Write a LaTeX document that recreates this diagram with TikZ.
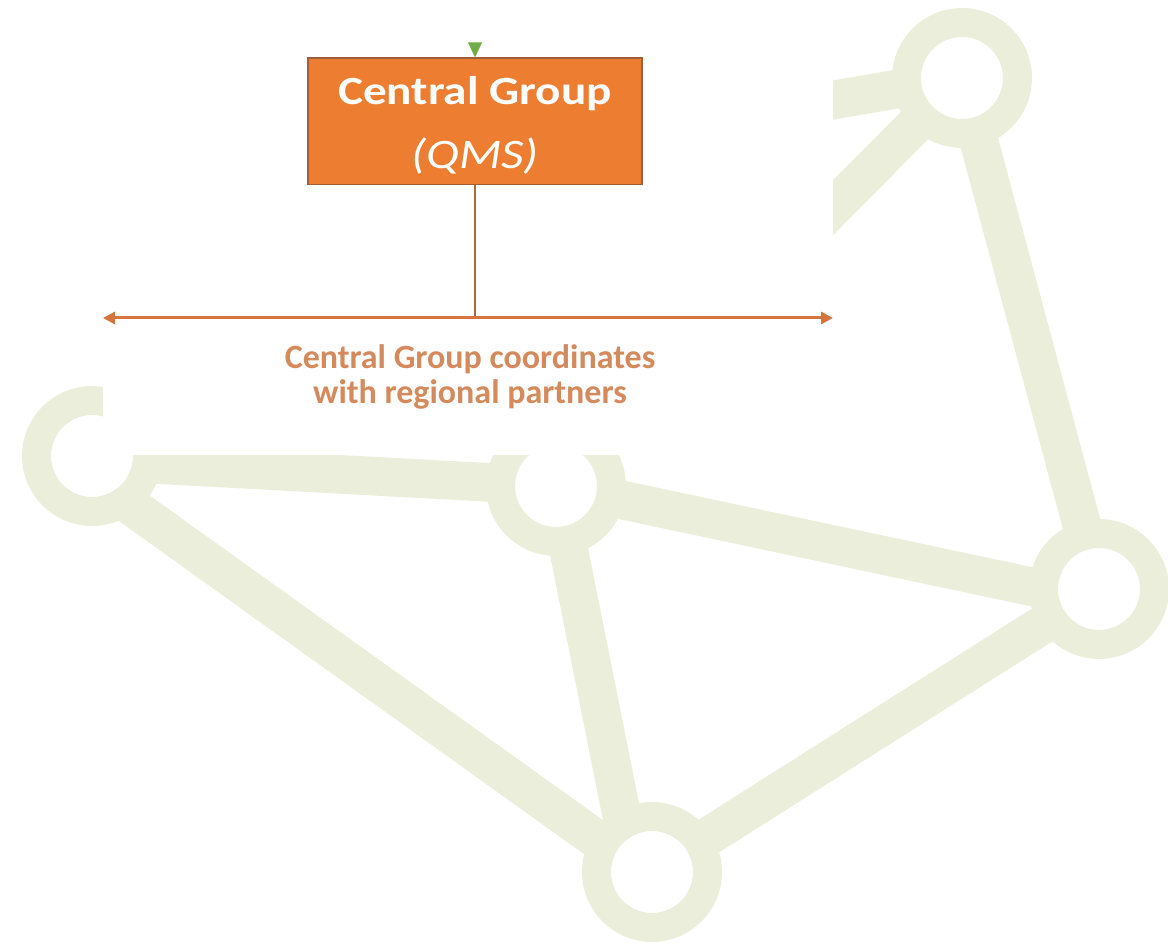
\documentclass[tikz,border=0pt]{standalone}
\usepackage{fontspec}
\setmainfont{Carlito}
\newfontfamily\boxfont[FakeStretch=1.18]{Carlito}
\usetikzlibrary{arrows.meta,backgrounds,calc}
\definecolor{ringgreen}{RGB}{235,238,218}
\definecolor{qmsorange}{RGB}{237,125,49}
\definecolor{qmsborder}{RGB}{160,95,55}
\definecolor{busorange}{RGB}{214,116,62}
\definecolor{stembrown}{RGB}{170,105,65}
\definecolor{notebrown}{RGB}{212,138,92}
\definecolor{pointgreen}{RGB}{112,173,71}
\tikzset{
	ring/.style={circle,draw=ringgreen,fill=white,line width=21.75pt,minimum size=83.25pt,inner sep=0pt},
	link/.style={ringgreen,line width=29pt},
}
\begin{document}
\begin{tikzpicture}[x=0.75pt,y=-0.75pt,>={Triangle[length=9pt,width=9pt]}]
	\useasboundingbox (0,0) rectangle (1168,944);
	% network behind
	\node[ring] (west) at (92,456) {};
	\node[ring] (mid) at (556,486) {};
	\node[ring] (north) at (962,78) {};
	\node[ring] (east) at (1099,589) {};
	\node[ring] (south) at (652,872) {};
	\coordinate (hidden) at (400,174);
	\begin{pgfonlayer}{background}
		\draw[link] ($(west)+(0,5)$)--(mid.center) ($(west)+(0,22)$)--($(south)+(0,7)$) (mid.center)--($(south)+(-19,0)$) (mid.center)--($(east)+(0,12)$);
		\draw[link] (south.center)--(east.center) (north.center)--(east.center) (north.center)--(mid.center) (north.center)--(hidden);
	\end{pgfonlayer}
	\fill[white] (103,0) rectangle (833,455);
	
	% central group and its partners
	\node[fill=qmsorange,draw=qmsborder,line width=1pt,minimum width=250.5pt,minimum height=95pt] (qms) at (475,121.5) {};
	\node[text=white,align=center,font=\boxfont\fontsize{30}{48}\selectfont] (qmstext) at ([yshift=-3pt]qms.center) {{\bfseries Central Group}\\{\itshape\fontsize{31.5}{48}\selectfont (QMS)}};
	\fill[pointgreen] (qms.north) ++(-7,-15) -- ++(14,0) -- (qms.north) -- cycle;
	\coordinate (busW) at (103,318);
	\coordinate (busE) at (833,318);
	\draw[stembrown,line width=2pt] (qms.south)--(qms.south |- busW);
	\draw[<->,busorange,line width=2.25pt] (busW)--(busE);
	\node[text=notebrown,align=center,font=\bfseries\fontsize{25.5}{26}\selectfont] (note) at (470,377) {Central Group coordinates\\with regional partners};
\end{tikzpicture}
\end{document}
